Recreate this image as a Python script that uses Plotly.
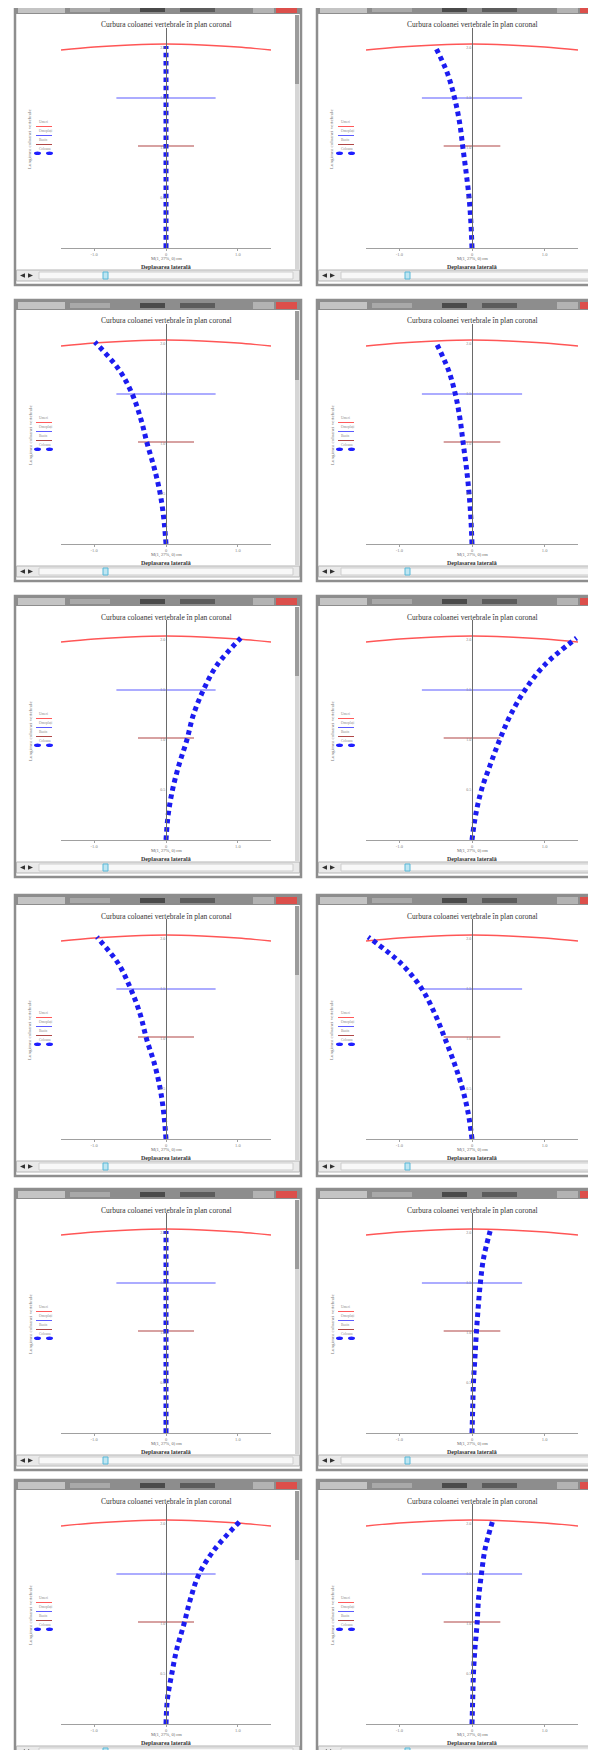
import plotly.graph_objects as go

# ---------------- data ----------------
Y_LEVELS = [0.0, 0.25, 0.5, 0.75, 1.0, 1.25, 1.5, 1.75, 2.02]

spine_1 = [0, 0, 0, 0, 0, 0, 0, 0, 0]
spine_2 = [0, -0.015, -0.04, -0.08, -0.125, -0.17, -0.24, -0.34, -0.51]
spine_3 = [0, -0.03, -0.08, -0.16, -0.26, -0.35, -0.47, -0.66, -0.99]
spine_4 = [0, -0.015, -0.04, -0.075, -0.12, -0.165, -0.23, -0.33, -0.50]
spine_5 = [0, 0.03, 0.09, 0.18, 0.29, 0.38, 0.52, 0.71, 1.04]
spine_6 = [0, 0.05, 0.13, 0.25, 0.38, 0.53, 0.73, 1.0, 1.44]
spine_7 = [0, -0.03, -0.08, -0.16, -0.27, -0.36, -0.49, -0.66, -0.96]
spine_8 = [0, -0.05, -0.13, -0.24, -0.37, -0.51, -0.69, -0.97, -1.43]
spine_9 = [0, 0, 0, 0, 0, 0, 0, 0, 0]
spine_10 = [0, 0.01, 0.02, 0.04, 0.06, 0.085, 0.115, 0.16, 0.25]
spine_11 = [0, 0.02, 0.08, 0.15, 0.25, 0.34, 0.46, 0.68, 1.02]
spine_12 = [0, 0.01, 0.02, 0.04, 0.07, 0.09, 0.13, 0.18, 0.28]
SPINES = [spine_1, spine_2, spine_3, spine_4, spine_5, spine_6,
          spine_7, spine_8, spine_9, spine_10, spine_11, spine_12]

RED_X = [-1.46, -1.0, -0.5, 0.0, 0.5, 1.0, 1.46]
RED_Y = [1.98, 2.01, 2.03, 2.04, 2.03, 2.01, 1.98]
BLUE_X = [-0.69, 0.0, 0.69]
BLUE_Y = [1.5, 1.5, 1.5]
BROWN_X = [-0.39, 0.0, 0.39]
BROWN_Y = [1.02, 1.02, 1.02]

X_TICKS = [-1, 0, 1]
X_TICK_TEXT = ["-1.0", "0", "1.0"]
Y_TICKS = [0.5, 1.0, 1.5, 2.0]
Y_TICK_TEXT = ["0.5", "1.0", "1.5", "2.0"]

TITLE = "Curbura coloanei vertebrale în plan coronal"
X_TITLE = "Deplasarea laterală"
Y_TITLE = "Lungimea coloanei vertebrale"
FORMULA = "M(1, 27%, 0) cm"
LEGEND_NAMES = ["Umeri", "Omoplați", "Bazin", "Coloana"]

# ---------------- layout geometry ----------------
W, H = 596, 1750
ROW_TOP = [-4, 292, 588, 887, 1181, 1472]
WIN_X = [(7, 293), (309, 597)]
AXIS_X = [(53, 263), (358, 570)]


def px(x):
    return x / W


def py(y):
    return 1 - y / H


fig = go.Figure()
shapes = []
annotations = []
layout_axes = {}

SERIF = "Liberation Serif"


def rect(x0, x1, y0, y1, fill, line_col=None, lw=0, layer="below"):
    shapes.append(dict(type="rect", xref="paper", yref="paper",
                       x0=px(x0), x1=px(x1), y0=py(min(y1, H)), y1=py(max(y0, 0)),
                       line=dict(color=line_col or fill, width=lw),
                       fillcolor=fill, layer=layer))


def tri(xa_, xb, yc, half, fill):
    path = (f"M {px(xa_)},{py(yc)} L {px(xb)},{py(yc - half)} "
            f"L {px(xb)},{py(yc + half)} Z")
    shapes.append(dict(type="path", xref="paper", yref="paper", path=path,
                       line=dict(width=0), fillcolor=fill))


k = 0
for r in range(6):
    for c in range(2):
        k += 1
        T = ROW_TOP[r]
        wl, wr = WIN_X[c]
        al, ar = AXIS_X[c]
        cx = (al + ar) / 2.0
        xa = "x" if k == 1 else f"x{k}"
        ya = "y" if k == 1 else f"y{k}"

        # ---- window decoration ----
        rect(wl, wr, T, T + 281, "white", "#8e8e8e", 2.5)
        # title bar
        rect(wl, wr, T, T + 10, "#8d8d8d")
        rect(wl + 3, wl + 50, T + 2, T + 9, "#c4c4c4")
        rect(wl + 55, wl + 95, T + 3, T + 8, "#a9a9a9")
        rect(wl + 125, wl + 150, T + 3, T + 8, "#4a4a4a")
        rect(wl + 165, wl + 200, T + 3, T + 8, "#5c5c5c")
        rect(wr - 48, wr - 27, T + 2, T + 9, "#b3b3b3")
        rect(wr - 25, wr - 4, T + 2, T + 9, "#dc4f4b")
        # right scroll strip
        rect(wr - 6, wr - 2, T + 11, T + 265, "#d6d6d6")
        rect(wr - 6, wr - 2, T + 11, T + 80, "#9c9c9c")
        # bottom toolbar
        rect(wl + 1.5, wr - 1.5, T + 266, T + 277, "#e9e9e9", "#b5b5b5", 1)
        rect(wl + 24, wr - 8, T + 268, T + 275, "#f8f8f8", "#cdcdcd", 1)
        tri(wl + 5, wl + 10, T + 271.5, 2.2, "#333333")
        tri(wl + 18, wl + 13, T + 271.5, 2.2, "#333333")
        rect(wl + 88, wl + 93, T + 268, T + 275, "#bfe6f2", "#58b8d8", 1)

        # ---- chart texts ----
        annotations.append(dict(x=px(cx), y=py(T + 21), xref="paper", yref="paper",
                                text=TITLE, showarrow=False,
                                font=dict(family=SERIF, size=7.5, color="#333333"),
                                xanchor="center", yanchor="middle"))
        annotations.append(dict(x=px(cx), y=py(T + 255), xref="paper", yref="paper",
                                text=FORMULA, showarrow=False,
                                font=dict(family=SERIF, size=4.5, color="#666666"),
                                xanchor="center", yanchor="middle"))
        annotations.append(dict(x=px(cx), y=py(T + 263), xref="paper", yref="paper",
                                text="<b>" + X_TITLE + "</b>", showarrow=False,
                                font=dict(family=SERIF, size=6, color="#333333"),
                                xanchor="center", yanchor="middle"))
        annotations.append(dict(x=px(wl + 15), y=py(T + 135), xref="paper", yref="paper",
                                text=Y_TITLE, showarrow=False, textangle=-90,
                                font=dict(family=SERIF, size=5, color="#777777"),
                                xanchor="center", yanchor="middle"))

        # ---- legend ----
        leg_cols = ["#ff5a5a", "#5a5aff", "#b04848"]
        for j in range(3):
            ty = T + 118 + j * 9
            annotations.append(dict(x=px(wl + 22), y=py(ty), xref="paper", yref="paper",
                                    text=LEGEND_NAMES[j], showarrow=False,
                                    font=dict(family=SERIF, size=3.5, color="#8a8a8a"),
                                    xanchor="left", yanchor="middle"))
            shapes.append(dict(type="line", xref="paper", yref="paper",
                               x0=px(wl + 21), x1=px(wl + 37), y0=py(ty + 4.5), y1=py(ty + 4.5),
                               line=dict(color=leg_cols[j], width=1)))
        annotations.append(dict(x=px(wl + 22), y=py(T + 145), xref="paper", yref="paper",
                                text=LEGEND_NAMES[3], showarrow=False,
                                font=dict(family=SERIF, size=3.5, color="#8a8a8a"),
                                xanchor="left", yanchor="middle"))
        for ex in (wl + 22.5, wl + 34.5):
            shapes.append(dict(type="circle", xref="paper", yref="paper",
                               x0=px(ex - 3.5), x1=px(ex + 3.5),
                               y0=py(T + 151), y1=py(T + 147.5),
                               line=dict(width=0), fillcolor="#1f1fff"))

        # ---- axes ----
        layout_axes["xaxis" if k == 1 else f"xaxis{k}"] = dict(
            domain=[px(al), px(ar)], range=[-1.46, 1.46], anchor=ya,
            showgrid=False, zeroline=False, showline=True, linecolor="#a0a0a0",
            linewidth=1, ticks="outside", ticklen=2, tickcolor="#a0a0a0",
            tickvals=X_TICKS, ticktext=X_TICK_TEXT,
            tickfont=dict(family=SERIF, size=4.5, color="#808080"),
            fixedrange=True)
        layout_axes["yaxis" if k == 1 else f"yaxis{k}"] = dict(
            domain=[py(T + 244), py(T + 24)], range=[0, 2.2], anchor="free",
            position=px(cx), side="left",
            showgrid=False, zeroline=False, showline=True, linecolor="#6a6a6a",
            linewidth=1, ticks="", tickvals=Y_TICKS, ticktext=Y_TICK_TEXT,
            tickfont=dict(family=SERIF, size=4, color="#808080"),
            fixedrange=True)

        # ---- traces ----
        fig.add_trace(go.Scatter(x=RED_X, y=RED_Y, mode="lines",
                                 line=dict(color="#ff5656", width=1.3, shape="spline"),
                                 xaxis=xa, yaxis=ya, showlegend=False, hoverinfo="skip"))
        fig.add_trace(go.Scatter(x=BLUE_X, y=BLUE_Y, mode="lines",
                                 line=dict(color="#5a5aff", width=1.1),
                                 xaxis=xa, yaxis=ya, showlegend=False, hoverinfo="skip"))
        fig.add_trace(go.Scatter(x=BROWN_X, y=BROWN_Y, mode="lines",
                                 line=dict(color="#b04444", width=1.1),
                                 xaxis=xa, yaxis=ya, showlegend=False, hoverinfo="skip"))
        fig.add_trace(go.Scatter(x=SPINES[k - 1], y=Y_LEVELS, mode="lines",
                                 line=dict(color="#1c1cf0", width=5, dash="4.5px,3.8px",
                                           shape="spline"),
                                 xaxis=xa, yaxis=ya, showlegend=False, hoverinfo="skip"))

fig.update_layout(
    width=W, height=H,
    margin=dict(l=0, r=0, t=0, b=0),
    paper_bgcolor="white", plot_bgcolor="rgba(0,0,0,0)",
    shapes=shapes, annotations=annotations, showlegend=False,
    **layout_axes,
)

fig.write_html("out.html")
